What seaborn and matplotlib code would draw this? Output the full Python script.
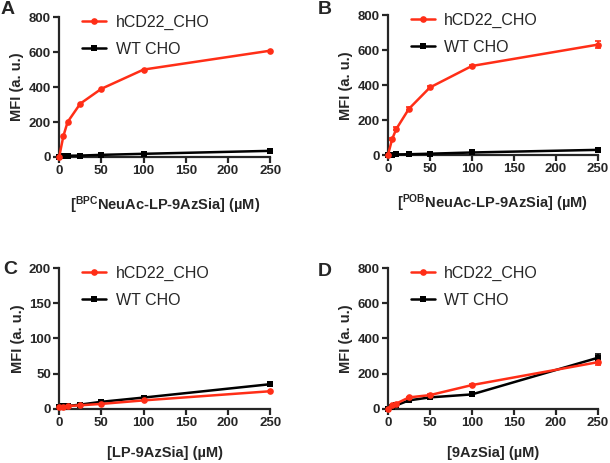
import numpy as np
import pandas as pd
import seaborn as sns
import matplotlib
import matplotlib.pyplot as plt
matplotlib.use("Agg")

conc = [0, 5, 10, 25, 50, 100, 250]
cells = ["hCD22_CHO", "WT CHO"]

a_hcd22 = [0, 120, 200, 305, 390, 500, 608]
a_wt = [0, 5, 7, 8, 12, 18, 35]
b_hcd22 = [0, 92, 150, 265, 387, 510, 632]
b_hcd22_err = [0, 8, 8, 8, 8, 8, 20]
b_wt = [0, 3, 4, 5, 8, 15, 30]
c_hcd22 = [2, 3, 4, 5, 7, 12, 25]
c_wt = [2, 4, 4, 6, 10, 16, 35]
d_hcd22 = [0, 20, 30, 65, 78, 135, 265]
d_hcd22_err = [0, 3, 3, 5, 5, 5, 15]
d_wt = [0, 8, 20, 48, 65, 82, 290]
d_wt_err = [0, 3, 3, 3, 3, 5, 22]

panel_letters = ["A", "B", "C", "D"]
xlabels = [r"[$^{\mathrm{BPC}}$NeuAc-LP-9AzSia] (µM)",
           r"[$^{\mathrm{POB}}$NeuAc-LP-9AzSia] (µM)",
           "[LP-9AzSia] (µM)",
           "[9AzSia] (µM)"]
ymax = [800, 800, 200, 800]
ysteps = [200, 200, 50, 200]

sns.set_style("ticks")
plt.rcParams["font.family"] = ["Liberation Sans", "DejaVu Sans"]
plt.rcParams["mathtext.fontset"] = "custom"
plt.rcParams["mathtext.rm"] = "Liberation Sans:bold"
plt.rcParams["mathtext.it"] = "Liberation Sans:bold"
plt.rcParams["mathtext.bf"] = "Liberation Sans:bold"

red = "#FF2E17"
palette = {"hCD22_CHO": red, "WT CHO": "black"}
markers = {"hCD22_CHO": "o", "WT CHO": "s"}

fig = plt.figure(figsize=(6.1, 4.63), dpi=100)
positions = [[0.097, 0.661, 0.346, 0.302],
             [0.636, 0.665, 0.344, 0.302],
             [0.097, 0.117, 0.346, 0.304],
             [0.636, 0.117, 0.344, 0.304]]
letter_pos = [(1, 1), (318, 1), (3, 261), (318, 263)]

series = [(a_hcd22, a_wt, None, None),
          (b_hcd22, b_wt, b_hcd22_err, None),
          (c_hcd22, c_wt, None, None),
          (d_hcd22, d_wt, d_hcd22_err, d_wt_err)]

for i, (hc, wt, hc_err, wt_err) in enumerate(series):
    ax = fig.add_axes(positions[i])
    df = pd.DataFrame({"conc": conc * 2,
                       "mfi": hc + wt,
                       "cell": [cells[0]] * len(conc) + [cells[1]] * len(conc)})
    sns.lineplot(data=df, x="conc", y="mfi", hue="cell", style="cell",
                 markers=markers, dashes=False, palette=palette,
                 hue_order=cells[::-1], style_order=cells[::-1],
                 linewidth=1.8, markersize=4.8, markeredgewidth=0,
                 clip_on=False, ax=ax, zorder=3)
    for vals, err, cell in [(hc, hc_err, cells[0]), (wt, wt_err, cells[1])]:
        if err is not None:
            ax.errorbar(conc, vals, yerr=err, fmt="none", ecolor=palette[cell],
                        elinewidth=1.2, capsize=2.5, capthick=1.2, clip_on=False)
    ax.set_xlim(0, 250)
    ax.set_ylim(0, ymax[i])
    ax.set_xticks([0, 50, 100, 150, 200, 250])
    ax.set_yticks(np.arange(0, ymax[i] + 1, ysteps[i]))
    for side in ["left", "bottom"]:
        ax.spines[side].set_linewidth(1.6)
    sns.despine(ax=ax)
    ax.tick_params(width=1.6, length=4, labelsize=9.5, pad=2)
    for lab in ax.get_xticklabels() + ax.get_yticklabels():
        lab.set_fontweight("bold")
    ax.set_xlabel(xlabels[i], fontsize=10.5, fontweight="bold", labelpad=12)
    ax.set_ylabel("MFI (a. u.)", fontsize=10.5, fontweight="bold", labelpad=3)
    handles, labels = ax.get_legend_handles_labels()
    order = [labels.index(c) for c in cells]
    ax.legend([handles[k] for k in order], [labels[k] for k in order],
              loc="upper left", bbox_to_anchor=(0.04, 1.12), frameon=False,
              fontsize=11.5, handlelength=1.5, handletextpad=0.6,
              labelspacing=0.75)
    lx, ly = letter_pos[i]
    fig.text(lx / 610, 1 - ly / 463, panel_letters[i], fontsize=14,
             fontweight="bold", ha="left", va="top")

fig.savefig("out.png", dpi=100)
